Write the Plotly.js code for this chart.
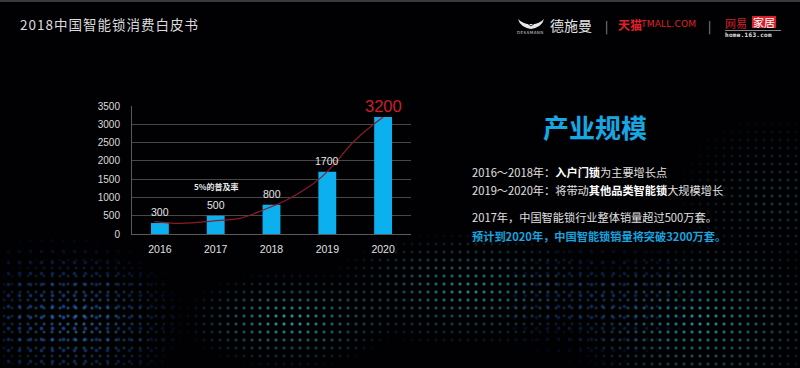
<!DOCTYPE html>
<html>
<head>
<meta charset="utf-8">
<script src="https://cdn.plot.ly/plotly-3.0.1.min.js"></script>
<style>
  html, body { margin: 0; padding: 0; background: #000; }
  #wrap { position: relative; width: 800px; height: 368px; overflow: hidden; background: #010103;
          font-family: "Noto Sans CJK SC", "Noto Sans", sans-serif; }
  #topline { position: absolute; left: 0; top: 0; width: 800px; height: 2px; background: #3a3a3a; }
  .dots { position: absolute; left: 0; top: 0; width: 800px; height: 368px; }
  #dots1 {
    background-image: radial-gradient(circle, rgba(45,165,185,1) 1px, rgba(45,165,185,0) 2px);
    background-size: 8px 8px;
    -webkit-mask-image:
      radial-gradient(ellipse 110px 70px at 80px 320px, rgba(0,0,0,0.6), rgba(0,0,0,0) 100%),
      radial-gradient(ellipse 110px 50px at 290px 320px, rgba(0,0,0,0.95), rgba(0,0,0,0) 100%),
      radial-gradient(ellipse 150px 60px at 470px 290px, rgba(0,0,0,0.8), rgba(0,0,0,0) 100%),
      radial-gradient(ellipse 140px 80px at 700px 320px, rgba(0,0,0,0.85), rgba(0,0,0,0) 100%),
      radial-gradient(ellipse 100px 90px at 770px 200px, rgba(0,0,0,0.35), rgba(0,0,0,0) 100%);
    mask-image:
      radial-gradient(ellipse 110px 70px at 80px 320px, rgba(0,0,0,0.6), rgba(0,0,0,0) 100%),
      radial-gradient(ellipse 110px 50px at 290px 320px, rgba(0,0,0,0.95), rgba(0,0,0,0) 100%),
      radial-gradient(ellipse 150px 60px at 470px 290px, rgba(0,0,0,0.8), rgba(0,0,0,0) 100%),
      radial-gradient(ellipse 140px 80px at 700px 320px, rgba(0,0,0,0.85), rgba(0,0,0,0) 100%),
      radial-gradient(ellipse 100px 90px at 770px 200px, rgba(0,0,0,0.35), rgba(0,0,0,0) 100%);
  }
  #dots2 {
    background-image: radial-gradient(circle, rgba(30,70,170,1) 1.2px, rgba(30,70,170,0) 2.4px);
    background-size: 11px 11px;
    background-position: 3px 4px;
    -webkit-mask-image:
      radial-gradient(ellipse 130px 90px at 60px 320px, rgba(0,0,0,0.9), rgba(0,0,0,0) 100%),
      radial-gradient(ellipse 120px 70px at 600px 300px, rgba(0,0,0,0.6), rgba(0,0,0,0) 100%);
    mask-image:
      radial-gradient(ellipse 130px 90px at 60px 320px, rgba(0,0,0,0.9), rgba(0,0,0,0) 100%),
      radial-gradient(ellipse 120px 70px at 600px 300px, rgba(0,0,0,0.6), rgba(0,0,0,0) 100%);
  }
  #chart { position: absolute; left: 0; top: 0; width: 800px; height: 368px; }
  .t { position: absolute; white-space: nowrap; }
  #title { left: 20px; top: 14px; font-size: 13.5px; color: #dcdcdc; letter-spacing: 1px; }
  #head { left: 543px; top: 108px; font-size: 26px; font-weight: bold; color: #17a8e3; }
  .line { left: 472px; font-size: 11.2px; color: #e0e0e0; }
  .line b { color: #ffffff; }
  #l1 { top: 164px; }
  #l2 { top: 182px; }
  #l3 { top: 209px; }
  #l4 { top: 228px; color: #1aa3df; font-weight: bold; }
  #dsm { left: 550px; top: 15px; font-size: 14px; color: #e6e6e6; }
  #dsmsmall { left: 517px; top: 30px; font-size: 4px; color: #cfcfcf; letter-spacing: 0.5px; font-family: "DejaVu Sans", sans-serif; }
  .sep { font-size: 12px; color: #9a9a9a; top: 17px; }
  #tm1 { left: 618px; top: 16px; font-size: 12px; color: #e0202a; font-weight: bold; }
  #tm2 { left: 641px; top: 19px; font-size: 9px; color: #e0202a; font-family: "DejaVu Sans", sans-serif; letter-spacing: 0.2px; }
  #wy1 { left: 725px; top: 15px; font-size: 11px; color: #d8202a; }
  #wy2 { left: 752px; top: 16px; font-size: 11px; color: #ffffff; background: #d8202a; padding: 0 1px; line-height: 12px; }
  #wyline { position: absolute; left: 725px; top: 30px; width: 56px; height: 1px; background: #888; }
  #wy3 { left: 725px; top: 31px; font-size: 6px; color: #e8e8e8; font-family: "DejaVu Sans Mono", monospace; font-weight: bold; letter-spacing: 0.3px; }
</style>
</head>
<body>
<div id="wrap">
  <div class="dots" id="dots2"></div>
  <div class="dots" id="dots1"></div>
  <div id="topline"></div>
  <div id="chart"></div>
  <div class="t" id="title">2018中国智能锁消费白皮书</div>

  <svg style="position:absolute;left:518px;top:19px" width="26" height="11" viewBox="0 0 26 11">
    <path d="M0 0 Q6 6 13 5 Q20 6 26 0 Q24 8 13 10 Q2 8 0 0 Z" fill="#e8e8e8"/>
    <path d="M9 4 L13 7 L17 4" stroke="#000" stroke-width="0.8" fill="none"/>
  </svg>
  <div class="t" id="dsmsmall">DESSMANN</div>
  <div class="t" id="dsm">德施曼</div>
  <div class="t sep" style="left:605px">|</div>
  <div class="t" id="tm1">天猫</div>
  <div class="t" id="tm2">TMALL.COM</div>
  <div class="t sep" style="left:708px">|</div>
  <div class="t" id="wy1">网易</div>
  <div class="t" id="wy2">家居</div>
  <div id="wyline"></div>
  <div class="t" id="wy3">home.163.com</div>

  <div class="t" id="head">产业规模</div>
  <div class="t line" id="l1">2016～2018年：<b>入户门锁</b>为主要增长点</div>
  <div class="t line" id="l2">2019～2020年：将带动<b>其他品类智能锁</b>大规模增长</div>
  <div class="t line" id="l3">2017年，中国智能锁行业整体销量超过500万套。</div>
  <div class="t line" id="l4">预计到2020年，中国智能锁销量将突破3200万套。</div>
</div>
<script>
// ---- data ----
var years = [2016, 2017, 2018, 2019, 2020];
var sales = [300, 500, 800, 1700, 3200];
var yTicks = [0, 500, 1000, 1500, 2000, 2500, 3000, 3500];
var trendX = [2015.9, 2016.36, 2017.02, 2017.43, 2017.85, 2018.27, 2018.63, 2018.87, 2019.11, 2019.5, 2020.0];
var trendY = [340, 292, 363, 429, 656, 929, 1249, 1522, 1885, 2570, 3200];
var noteText = "5%的普及率";
var noteYear = 2017;
var noteValue = 500;

var barTrace = {
  type: 'bar', x: years, y: sales, width: 0.32,
  marker: { color: '#0db0ee', line: { width: 0 } },
  hoverinfo: 'skip'
};
var trendTrace = {
  type: 'scatter', mode: 'lines', x: trendX, y: trendY,
  line: { color: '#8a1c26', width: 1.2, shape: 'spline' },
  hoverinfo: 'skip'
};

var annotations = years.map(function (yr, i) {
  var last = i === years.length - 1;
  return {
    x: yr, y: sales[i], xref: 'x', yref: 'y', text: String(sales[i]),
    showarrow: false, yanchor: 'bottom', yshift: last ? 0 : 3,
    font: { family: 'Liberation Sans, Arial, sans-serif',
            size: last ? 16.5 : 10.5, color: last ? '#cc1f2b' : '#e6e6e6' }
  };
});
annotations.push({
  x: noteYear, y: noteValue, xref: 'x', yref: 'y', text: '<b>' + noteText + '</b>',
  showarrow: false, yanchor: 'bottom', yshift: 22,
  font: { family: 'Noto Sans CJK SC, sans-serif', size: 8, color: '#e8e8e8' }
});

var layout = {
  width: 800, height: 368,
  margin: { l: 132, r: 389, t: 106, b: 134, pad: 0 },
  paper_bgcolor: 'rgba(0,0,0,0)', plot_bgcolor: 'rgba(0,0,0,0)',
  showlegend: false,
  xaxis: {
    type: 'linear', range: [2015.5, 2020.5], tickvals: years, ticktext: years.map(String),
    showgrid: false, zeroline: false, showline: true, linecolor: '#5a5a5a', linewidth: 1,
    ticks: '', ticklabelstandoff: 5,
    tickfont: { family: 'Liberation Sans, Arial, sans-serif', size: 10.5, color: '#e0e0e0' },
    fixedrange: true
  },
  yaxis: {
    range: [0, 3500], tickvals: yTicks, ticktext: yTicks.map(String),
    showgrid: true, gridcolor: '#474747', gridwidth: 1, zeroline: false,
    showline: true, linecolor: '#5a5a5a', linewidth: 1, ticks: '', ticklabelstandoff: 9,
    tickfont: { family: 'Liberation Sans, Arial, sans-serif', size: 10, color: '#dcdcdc' },
    fixedrange: true
  },
  annotations: annotations
};

Plotly.newPlot('chart', [barTrace, trendTrace], layout, { staticPlot: true, displayModeBar: false });
</script>
</body>
</html>
